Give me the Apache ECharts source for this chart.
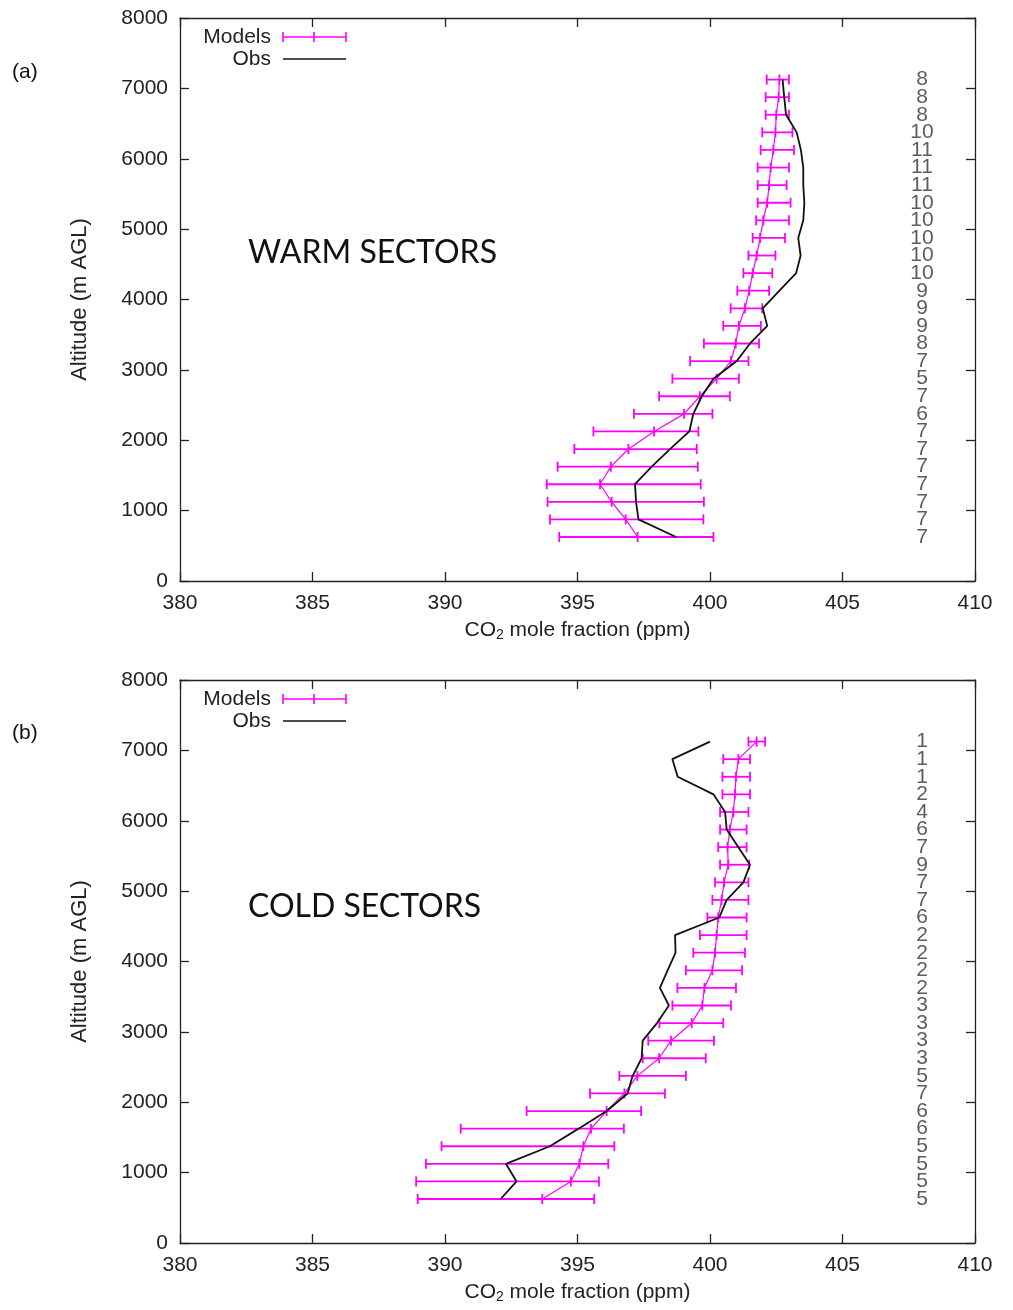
<!DOCTYPE html>
<html>
<head>
<meta charset="utf-8">
<script src="https://cdn.jsdelivr.net/npm/echarts@6/dist/echarts.min.js"></script>
<style>
html,body{margin:0;padding:0;background:#fff;}
#chart{width:1013px;height:1310px;}
</style>
</head>
<body>
<div id="chart"></div>
<script>
// Altitude levels (m AGL), bottom to top
const altitudes = [625, 875, 1125, 1375, 1625, 1875, 2125, 2375, 2625, 2875, 3125, 3375, 3625, 3875,
  4125, 4375, 4625, 4875, 5125, 5375, 5625, 5875, 6125, 6375, 6625, 6875, 7125];

// (a) WARM SECTORS
const warmModelMean = [397.27, 396.82, 396.29, 395.85, 396.26, 396.92, 397.89, 399.02, 399.62, 400.25, 400.79, 400.97, 401.09, 401.32,
  401.48, 401.61, 401.76, 401.89, 402.01, 402.16, 402.23, 402.29, 402.39, 402.47, 402.50, 402.59, 402.62];
const warmModelLow = [394.31, 393.96, 393.87, 393.84, 394.25, 394.88, 395.60, 397.13, 398.08, 398.58, 399.25, 399.77, 400.50, 400.78,
  401.03, 401.26, 401.45, 401.61, 401.74, 401.80, 401.80, 401.80, 401.91, 401.97, 402.10, 402.10, 402.14];
const warmModelHigh = [400.13, 399.75, 399.77, 399.65, 399.54, 399.50, 399.56, 400.09, 400.75, 401.09, 401.45, 401.85, 401.92, 401.97,
  402.23, 402.35, 402.47, 402.83, 402.98, 403.04, 402.89, 402.98, 403.17, 403.11, 402.98, 402.98, 402.98];
const warmObs = [398.72, 397.30, 397.21, 397.17, 397.80, 398.49, 399.22, 399.37, 399.69, 400.13, 401.01, 401.51, 402.16, 401.99,
  402.62, 403.25, 403.42, 403.33, 403.52, 403.56, 403.52, 403.52, 403.43, 403.27, 402.87, 402.80, 402.74];
const warmCounts = [7, 7, 7, 7, 7, 7, 7, 6, 7, 5, 7, 8, 9, 9, 9, 10, 10, 10, 10, 10, 11, 11, 11, 10, 8, 8, 8];

// (b) COLD SECTORS
const coldModelMean = [393.67, 394.75, 395.07, 395.22, 395.51, 396.10, 396.77, 397.26, 398.08, 398.53, 399.31, 399.71, 399.79, 400.09,
  400.19, 400.25, 400.31, 400.44, 400.53, 400.69, 400.66, 400.75, 400.88, 400.94, 400.98, 401.07, 401.76];
const coldModelLow = [388.97, 388.91, 389.28, 389.87, 390.59, 393.08, 395.47, 396.58, 397.46, 397.67, 398.09, 398.58, 398.77, 399.09,
  399.37, 399.62, 399.90, 400.09, 400.19, 400.38, 400.31, 400.38, 400.38, 400.47, 400.47, 400.50, 401.45];
const coldModelHigh = [395.63, 395.81, 396.16, 396.39, 396.75, 397.40, 398.30, 399.09, 399.84, 400.15, 400.50, 400.79, 400.98, 401.21,
  401.32, 401.38, 401.38, 401.45, 401.45, 401.48, 401.38, 401.38, 401.45, 401.51, 401.51, 401.51, 402.08];
const coldObs = [392.10, 392.70, 392.30, 393.96, 395.04, 396.10, 396.89, 397.08, 397.42, 397.46, 398.00, 398.45, 398.11, 398.40,
  398.70, 398.68, 400.35, 400.63, 401.26, 401.51, 401.07, 400.63, 400.57, 400.13, 398.78, 398.58, 400.00];
const coldCounts = [5, 5, 5, 5, 6, 6, 7, 5, 3, 3, 3, 3, 2, 2, 2, 2, 6, 7, 7, 9, 7, 6, 4, 2, 1, 1, 1];

// Axis settings
const xMin = 380, xMax = 410, xStep = 5;
const yMin = 0, yMax = 8000, yStep = 1000;
const countColumnX = 408;

const panelLabels = ['(a)', '(b)'];
const sectorTitles = ['WARM SECTORS', 'COLD SECTORS'];
const legendNames = ['Models', 'Obs'];

const MAG = '#ff00ff';
const INK = '#222222';
const FONT = '"Liberation Sans", Arial, sans-serif';

const chart = echarts.init(document.getElementById('chart'));

const grids = [
  {left: 180, width: 795, top: 18, height: 563},
  {left: 180, width: 795, top: 680, height: 563}
];

function axisX(gi, isTop) {
  return {
    type: 'value', gridIndex: gi, min: xMin, max: xMax, interval: xStep,
    position: isTop ? 'top' : 'bottom',
    name: isTop ? '' : 'CO{sub|2} mole fraction (ppm)',
    nameLocation: 'middle', nameGap: 38,
    nameTextStyle: {fontSize: 21, color: INK, fontFamily: FONT,
      rich: {sub: {fontSize: 14, color: INK, fontFamily: FONT, padding: [9, 0, 0, 0]}}},
    axisLine: {show: true, onZero: false, lineStyle: {color: INK, width: 1.3}},
    axisTick: {show: true, inside: true, length: 9, lineStyle: {color: INK, width: 1.3}},
    axisLabel: {show: !isTop, fontSize: 21, color: INK, fontFamily: FONT, margin: 12,
      formatter: v => String(v)},
    splitLine: {show: false}
  };
}
function axisY(gi, isRight) {
  return {
    type: 'value', gridIndex: gi, min: yMin, max: yMax, interval: yStep,
    position: isRight ? 'right' : 'left',
    name: isRight ? '' : 'Altitude (m AGL)',
    nameLocation: 'middle', nameGap: 89, nameRotate: 90,
    nameTextStyle: {fontSize: 22, color: INK, fontFamily: FONT},
    axisLine: {show: true, onZero: false, lineStyle: {color: INK, width: 1.3}},
    axisTick: {show: true, inside: true, length: 9, lineStyle: {color: INK, width: 1.3}},
    axisLabel: {show: !isRight, fontSize: 21, color: INK, fontFamily: FONT, margin: 12,
      formatter: v => String(v)},
    splitLine: {show: false}
  };
}

function errorBarRender(params, api) {
  const alt = api.value(3);
  const lo = api.coord([api.value(0), alt]);
  const hi = api.coord([api.value(1), alt]);
  const c = api.coord([api.value(2), alt]);
  const h = 5;
  const st = {stroke: MAG, lineWidth: 1.8};
  return {
    type: 'group',
    children: [
      {type: 'line', shape: {x1: lo[0], y1: lo[1], x2: hi[0], y2: hi[1]}, style: st},
      {type: 'line', shape: {x1: lo[0], y1: lo[1] - h, x2: lo[0], y2: lo[1] + h}, style: st},
      {type: 'line', shape: {x1: hi[0], y1: hi[1] - h, x2: hi[0], y2: hi[1] + h}, style: st},
      {type: 'line', shape: {x1: c[0], y1: c[1] - h, x2: c[0], y2: c[1] + h}, style: st}
    ]
  };
}

function panelSeries(gi, mean, low, high, obs, counts) {
  const xi = gi * 2, yi = gi * 2;
  return [
    {
      type: 'line', name: 'Models', xAxisIndex: xi, yAxisIndex: yi,
      data: altitudes.map((a, i) => [mean[i], a]),
      symbol: 'none', lineStyle: {color: MAG, width: 1.2}, silent: true, z: 3
    },
    {
      type: 'custom', name: 'Models bars', xAxisIndex: xi, yAxisIndex: yi,
      data: altitudes.map((a, i) => [low[i], high[i], mean[i], a]),
      encode: {x: [0, 1, 2], y: 3},
      renderItem: errorBarRender, silent: true, z: 3
    },
    {
      type: 'line', name: 'Obs', xAxisIndex: xi, yAxisIndex: yi,
      data: altitudes.map((a, i) => [obs[i], a]),
      symbol: 'none', lineStyle: {color: '#111', width: 1.8}, silent: true, z: 4
    },
    {
      type: 'scatter', name: 'N', xAxisIndex: xi, yAxisIndex: yi,
      data: altitudes.map((a, i) => [countColumnX, a, counts[i]]),
      symbolSize: 0, silent: true,
      label: {show: true, position: 'inside', formatter: p => String(p.data[2]),
        fontSize: 21, color: '#333', fontFamily: FONT},
      labelLayout: {hideOverlap: false}
    }
  ];
}

function legendGraphics(offY) {
  const st = {stroke: MAG, lineWidth: 1.6};
  const y1 = 37 + offY, y2 = 59 + offY;
  return [
    {type: 'text', style: {text: legendNames[0], x: 271, y: y1, textAlign: 'right', textVerticalAlign: 'middle', font: '21px ' + FONT, fill: INK}},
    {type: 'line', shape: {x1: 283, y1: y1, x2: 346, y2: y1}, style: st},
    {type: 'line', shape: {x1: 283, y1: y1 - 5, x2: 283, y2: y1 + 5}, style: st},
    {type: 'line', shape: {x1: 346, y1: y1 - 5, x2: 346, y2: y1 + 5}, style: st},
    {type: 'line', shape: {x1: 314, y1: y1 - 5, x2: 314, y2: y1 + 5}, style: st},
    {type: 'text', style: {text: legendNames[1], x: 271, y: y2, textAlign: 'right', textVerticalAlign: 'middle', font: '21px ' + FONT, fill: INK}},
    {type: 'line', shape: {x1: 283, y1: y2, x2: 346, y2: y2}, style: {stroke: '#111', lineWidth: 1.6}}
  ];
}

const TITLE_FONT = '32px Lato, "Open Sans", sans-serif';
const graphics = [].concat(
  [{type: 'text', style: {text: panelLabels[0], x: 12, y: 72, textVerticalAlign: 'middle', font: '21px ' + FONT, fill: '#111'}}],
  [{type: 'text', style: {text: panelLabels[1], x: 12, y: 733, textVerticalAlign: 'middle', font: '21px ' + FONT, fill: '#111'}}],
  [{type: 'text', style: {text: sectorTitles[0], x: 248, y: 253, textVerticalAlign: 'middle', font: TITLE_FONT, fill: '#111'}}],
  [{type: 'text', style: {text: sectorTitles[1], x: 248, y: 907, textVerticalAlign: 'middle', font: TITLE_FONT, fill: '#111'}}],
  legendGraphics(0),
  legendGraphics(662)
);

chart.setOption({
  animation: false,
  backgroundColor: '#fff',
  grid: grids,
  xAxis: [axisX(0, false), axisX(0, true), axisX(1, false), axisX(1, true)],
  yAxis: [axisY(0, false), axisY(0, true), axisY(1, false), axisY(1, true)],
  series: [].concat(
    panelSeries(0, warmModelMean, warmModelLow, warmModelHigh, warmObs, warmCounts),
    panelSeries(1, coldModelMean, coldModelLow, coldModelHigh, coldObs, coldCounts)
  ),
  graphic: graphics
});
</script>
</body>
</html>
